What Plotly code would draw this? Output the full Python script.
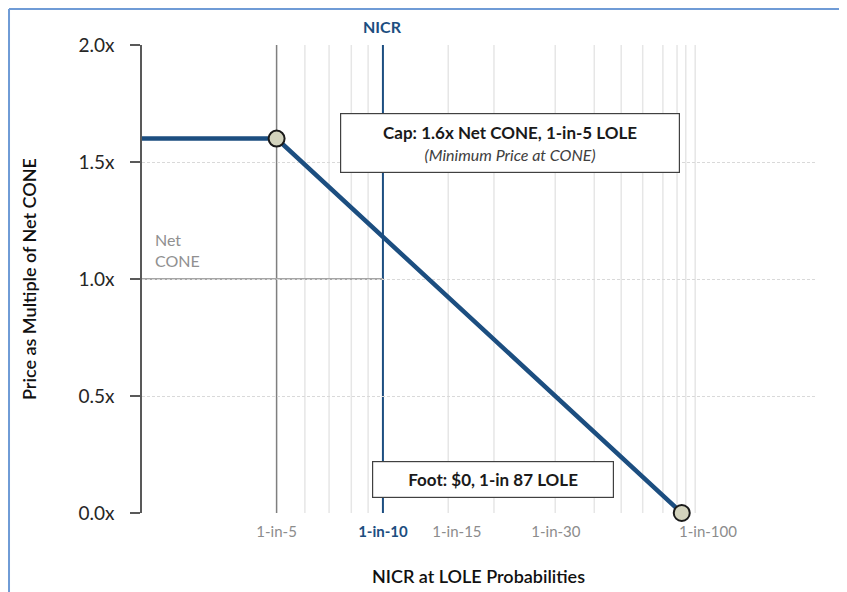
import plotly.graph_objects as go

# ---- data ----
curve_x = [0, 20.0, 80.2]          # NICR position (abstract units)
curve_y = [1.6, 1.6, 0.0]          # price as multiple of Net CONE
point_x = [20.0, 80.2]             # cap and foot points
point_y = [1.6, 0.0]
cap_x = 20.0                       # 1-in-5 LOLE
nicr_x = 35.8                      # NICR (1-in-10)
net_cone = 1.0
minor_grid_x = [24.2, 27.8, 31.1, 33.6, 45.5, 52.3, 61.4, 67.2, 71.2, 74.4, 77.4, 79.5, 80.8, 82.2]
tick_x = [20.0, 35.8, 46.8, 61.5, 84.1]
tick_labels = ["1-in-5", "1-in-10", "1-in-15", "1-in-30", "1-in-100"]
y_ticks = [0.0, 0.5, 1.0, 1.5, 2.0]
y_tick_labels = ["0.0x", "0.5x", "1.0x", "1.5x", "2.0x"]

BLUE = "#1c4e80"
FONT = "Lato"

fig = go.Figure()

shapes = []
for gx in minor_grid_x:
    shapes.append(dict(type="line", xref="x", yref="y", x0=gx, x1=gx, y0=0, y1=2.0,
                       line=dict(color="#e6e6e6", width=1.5), layer="below"))
shapes.append(dict(type="line", xref="x", yref="y", x0=cap_x, x1=cap_x, y0=0, y1=2.0,
                   line=dict(color="#7f7f7f", width=1.5), layer="below"))
shapes.append(dict(type="line", xref="x", yref="y", x0=nicr_x, x1=nicr_x, y0=0, y1=2.0,
                   line=dict(color=BLUE, width=2), layer="below"))
shapes.append(dict(type="line", xref="x", yref="y", x0=0, x1=nicr_x, y0=net_cone, y1=net_cone,
                   line=dict(color="#a6a6a6", width=2), layer="below"))
# outer blue frame (figure edge)
shapes.append(dict(type="line", xref="paper", yref="paper", x0=-0.1976, x1=1.1, y0=1.0770, y1=1.0770,
                   line=dict(color="#6f9bd6", width=2)))
shapes.append(dict(type="line", xref="paper", yref="paper", x0=-0.1976, x1=-0.1976, y0=1.0770, y1=-0.2,
                   line=dict(color="#6f9bd6", width=2)))

fig.add_trace(go.Scatter(x=curve_x, y=curve_y, mode="lines",
                         line=dict(color=BLUE, width=4.5), hoverinfo="skip", showlegend=False))
fig.add_trace(go.Scatter(x=point_x, y=point_y, mode="markers",
                         marker=dict(size=16, color="#d3d3bd", line=dict(color="#1a1a1a", width=2)),
                         cliponaxis=False, showlegend=False))

ticktext = []
for t in tick_labels:
    if t == "1-in-10":
        ticktext.append("<b><span style='color:%s'>%s</span></b>" % (BLUE, t))
    else:
        ticktext.append(t)

annotations = [
    dict(x=54.7, y=1.58, xref="x", yref="y", showarrow=False,
         text="<b>Cap: 1.6x Net CONE, 1-in-5 LOLE</b><br><i><span style='color:#404040;font-size:16px'>(Minimum Price at CONE)</span></i>",
         font=dict(family=FONT, size=17, color="#1a1a1a"), align="center",
         bgcolor="white", bordercolor="#404040", borderwidth=1.2, borderpad=8, width=322),
    dict(x=52.2, y=0.145, xref="x", yref="y", showarrow=False,
         text="<b>Foot: $0, 1-in 87 LOLE</b>",
         font=dict(family=FONT, size=17, color="#1a1a1a"), align="center",
         bgcolor="white", bordercolor="#404040", borderwidth=1.2, borderpad=7, width=226),
    dict(x=1.6, y=1.124, xref="x", yref="y", showarrow=False, xanchor="left",
         text="Net<br>CONE", align="left",
         font=dict(family=FONT, size=16, color="#909090")),
    dict(x=nicr_x, y=1.0, xref="x", yref="paper", showarrow=False, yanchor="bottom", yshift=7,
         text="<b>NICR</b>", font=dict(family=FONT, size=16, color=BLUE)),
]

fig.update_layout(
    width=839, height=584,
    margin=dict(l=134, r=32, t=37, b=79),
    paper_bgcolor="white", plot_bgcolor="white",
    showlegend=False,
    shapes=shapes,
    annotations=annotations,
    font=dict(family=FONT),
    xaxis=dict(range=[0, 100], tickvals=tick_x, ticktext=ticktext, automargin=False,
               showgrid=False, zeroline=False, showline=False, ticks="",
               ticklabelstandoff=8,
               tickfont=dict(family=FONT, size=15, color="#8c8c8c"),
               title=dict(text="NICR at LOLE Probabilities", standoff=31,
                          font=dict(family=FONT, size=18, color="#111111", weight=600))),
    yaxis=dict(range=[0, 2.0], tickvals=y_ticks, ticktext=y_tick_labels, automargin=False,
               showgrid=True, gridcolor="#d9d9d9", griddash="3px,2px", gridwidth=1,
               zeroline=False, showline=True, linecolor="#595959", linewidth=1.5,
               ticks="outside", ticklen=10, tickcolor="#595959", tickwidth=1.5,
               ticklabelstandoff=12,
               tickfont=dict(family=FONT, size=19, color="#262626"),
               title=dict(text="Price as Multiple of Net CONE", standoff=37,
                          font=dict(family=FONT, size=18, color="#111111", weight=600))),
)

fig.write_html("out.html")
